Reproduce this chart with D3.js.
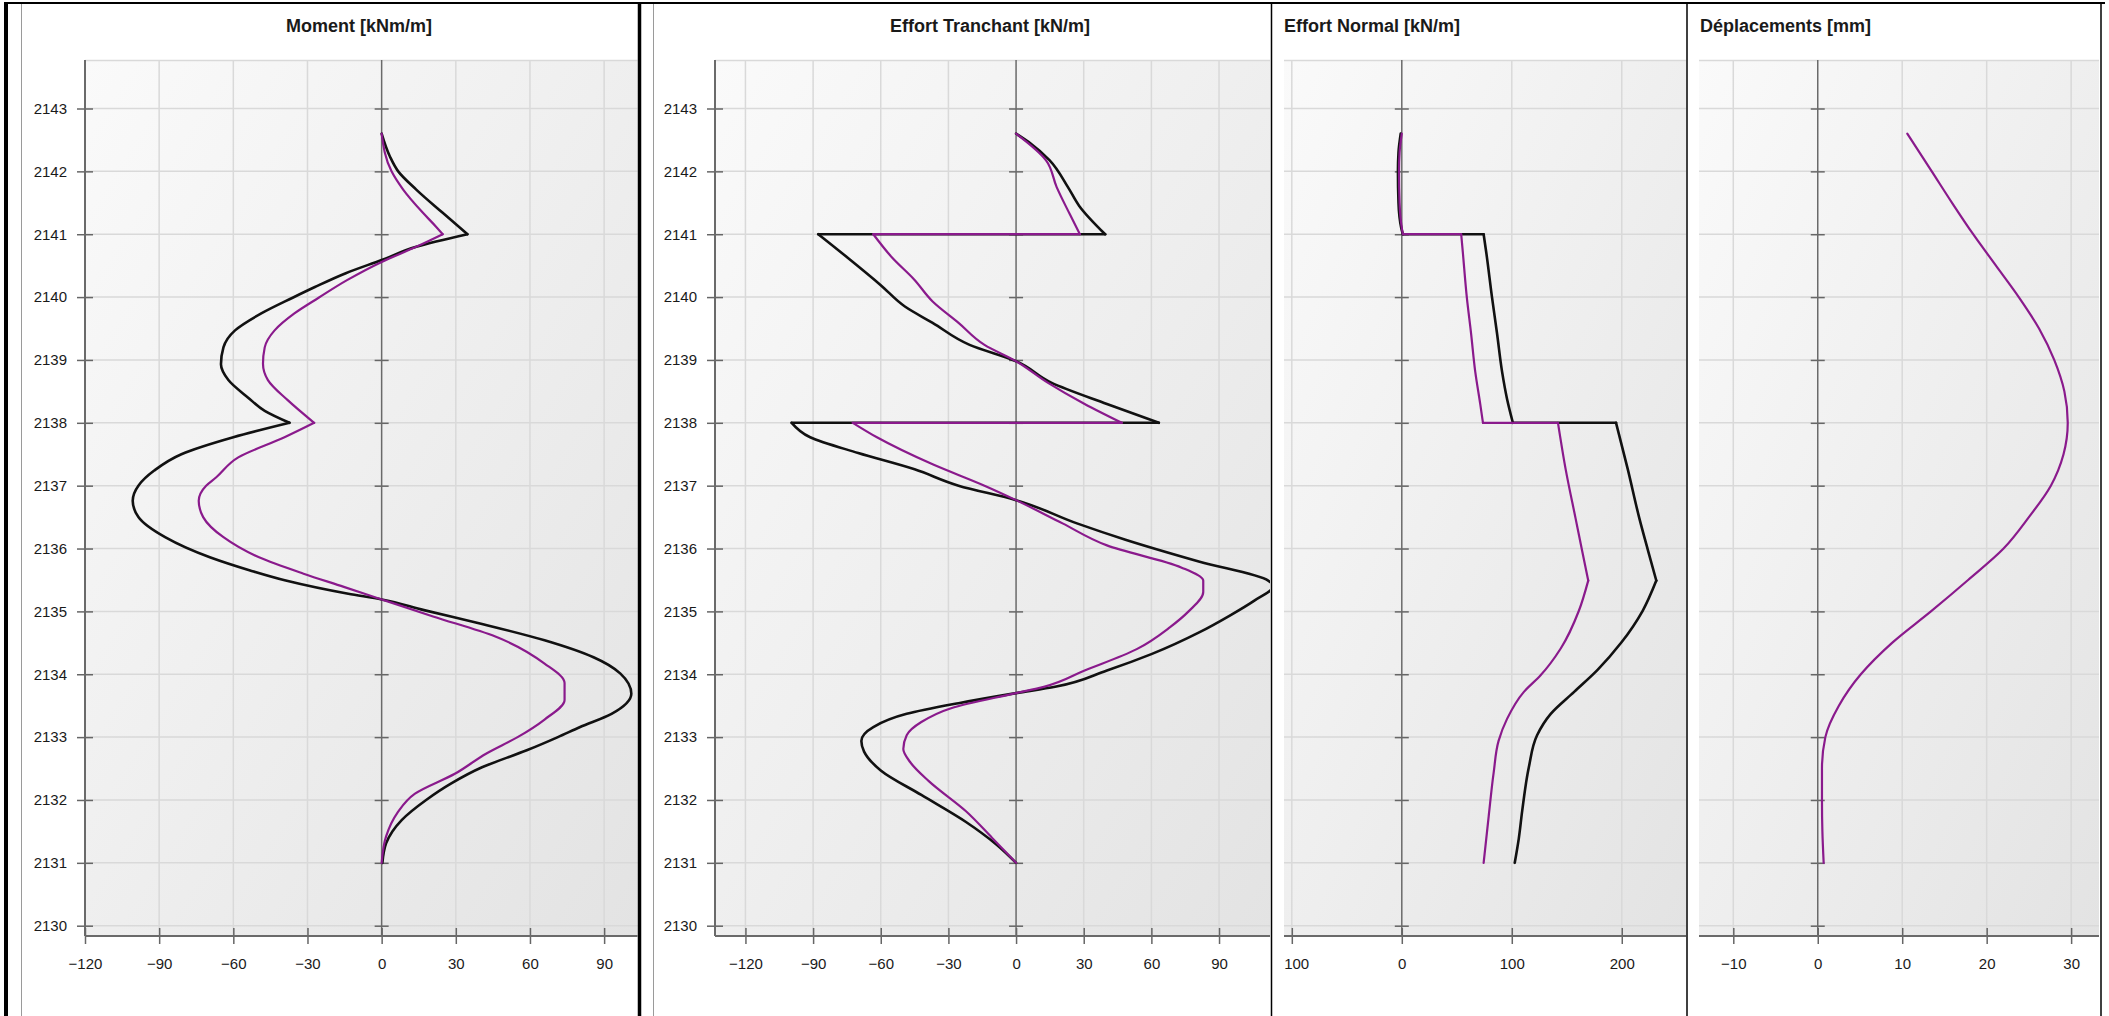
<!DOCTYPE html>
<html>
<head>
<meta charset="utf-8">
<script src="https://cdn.jsdelivr.net/npm/d3@7"></script>
<style>
  body { margin: 0; background: #fff; }
  text { font-family: "Liberation Sans", Arial, sans-serif; fill: #1a1a1a; }
</style>
</head>
<body>
<svg id="chart" width="2109" height="1016"></svg>
<script>
// ---- data (depth in m, value) ----
const depthTicks = [2130, 2131, 2132, 2133, 2134, 2135, 2136, 2137, 2138, 2139, 2140, 2141, 2142, 2143];

const momentTicks = [-120, -90, -60, -30, 0, 30, 60, 90];
const momentDepthBlack = [2142.6, 2142.24, 2142.0, 2141.71, 2141.34, 2141.0, 2140.8, 2140.59, 2140.38, 2140.16, 2139.99, 2139.74, 2139.47, 2139.2, 2138.93, 2138.68, 2138.4, 2138.19, 2138.0, 2137.77, 2137.5, 2137.24, 2137.0, 2136.76, 2136.5, 2136.18, 2135.86, 2135.65, 2135.49, 2135.28, 2135.19, 2135.02, 2134.8, 2134.54, 2134.27, 2134.01, 2133.69, 2133.37, 2133.16, 2133.0, 2132.79, 2132.52, 2132.26, 2132.0, 2131.68, 2131.31, 2131.0];
const momentBlack = [0, 3.3, 6.7, 14, 24.7, 34.7, 14, 0, -14.5, -27, -36, -48.7, -59.3, -64, -65, -62, -54, -47.3, -37.3, -60, -81, -92, -98.4, -100.7, -98.4, -87.6, -69.5, -53.2, -38.8, -13.5, 0, 17.1, 40.6, 65.9, 85.7, 96.6, 101, 93, 80.3, 71.3, 58.7, 40.6, 28, 18, 8.1, 1.8, 0.3];
const momentDepthPurple = [2142.6, 2142.0, 2141.71, 2141.34, 2141.12, 2141.0, 2140.8, 2140.56, 2140.27, 2139.99, 2139.74, 2139.47, 2139.2, 2138.94, 2138.68, 2138.36, 2138.0, 2137.77, 2137.45, 2137.13, 2137.0, 2136.76, 2136.5, 2136.18, 2135.86, 2135.6, 2135.39, 2135.19, 2134.92, 2134.6, 2134.17, 2133.86, 2133.59, 2133.28, 2133.0, 2132.74, 2132.42, 2132.1, 2131.79, 2131.42, 2131.0];
const momentPurple = [0, 4, 8.7, 16.7, 22, 24.7, 14, 0, -14, -25.5, -35.3, -43.3, -47.3, -48, -46, -38, -27.3, -39.3, -58, -67, -71, -74, -72.2, -64, -49.6, -31.6, -15.3, 0, 20.8, 46, 65.9, 74, 74, 65.9, 55, 42.4, 29.8, 13.5, 6.3, 1.8, 0];

const shearTicks = [-120, -90, -60, -30, 0, 30, 60, 90];
const shearDepthBlack = [2142.6, 2142.44, 2142.18, 2141.75, 2141.45, 2141.0, 2141.0, 2140.63, 2140.19, 2139.85, 2139.59, 2139.24, 2138.98, 2138.64, 2138.3, 2138.0, 2138.0, 2137.77, 2137.52, 2137.26, 2137.0, 2136.77, 2136.4, 2136.14, 2135.79, 2135.49, 2135.4, 2135.18, 2134.93, 2134.67, 2134.32, 2134.06, 2133.8, 2133.7, 2133.54, 2133.37, 2133.16, 2132.94, 2132.77, 2132.47, 2132.08, 2131.65, 2131.3, 2131.0];
const shearBlack = [0, 6.6, 14.8, 23, 28, 39.5, -87.7, -74.8, -60, -49.3, -37, -20.6, 0, 15.6, 40.3, 63.3, -99.5, -91.3, -70, -45, -25.5, 0, 27, 48.5, 81.4, 111.8, 114, 106, 94.6, 81.4, 60, 40.3, 17.3, 0, -25.5, -48.5, -63.3, -68.6, -67.4, -60, -42, -22.2, -9, 0];
const shearDepthPurple = [2142.6, 2142.18, 2141.75, 2141.32, 2141.0, 2141.0, 2140.63, 2140.28, 2139.93, 2139.59, 2139.24, 2138.98, 2138.64, 2138.3, 2138.0, 2138.0, 2137.77, 2137.34, 2137.0, 2136.77, 2136.4, 2136.05, 2135.7, 2135.49, 2135.31, 2135.0, 2134.75, 2134.4, 2134.06, 2133.8, 2133.7, 2133.46, 2133.24, 2133.03, 2132.81, 2132.6, 2132.3, 2131.82, 2131.4, 2131.0];
const shearPurple = [0, 13.2, 18, 23.8, 28.3, -63.3, -55, -45.2, -37, -25.5, -14, 0, 14, 30.4, 46.9, -72.4, -61.7, -37, -14, 0, 20.6, 40.3, 73.2, 83, 83, 76.5, 68.3, 53.5, 30.4, 12.3, 0, -28.8, -42, -48.5, -50, -46.9, -38.7, -22.2, -10.7, 0];

const normalTicks = [-100, 0, 100, 200];
const normalDepthBlack = [2142.6, 2142.3, 2142.0, 2141.5, 2141.1, 2141.0, 2141.0, 2140.71, 2140.0, 2139.42, 2138.81, 2138.38, 2138.0, 2138.0, 2137.26, 2136.48, 2135.96, 2135.49, 2135.01, 2134.5, 2134.07, 2133.72, 2133.37, 2133.03, 2132.52, 2131.83, 2131.39, 2131.0];
const normalBlack = [-1, -3, -3.5, -3, -0.5, 1, 74.4, 76.8, 82, 86.6, 91.2, 95.7, 101, 194.8, 205.5, 216, 224, 231.4, 219, 199.4, 178, 156.7, 135.4, 123, 115.5, 109.5, 106.4, 102.7];
const normalDepthPurple = [2142.6, 2142.3, 2142.0, 2141.5, 2141.1, 2141.0, 2141.0, 2140.71, 2140.0, 2139.42, 2138.81, 2138.3, 2138.0, 2138.0, 2137.26, 2136.48, 2135.96, 2135.49, 2135.01, 2134.41, 2133.98, 2133.72, 2133.29, 2132.94, 2132.43, 2131.74, 2131.0];
const normalPurple = [0, -2, -2.5, -2, 0, 1, 54, 55.5, 59.1, 63, 66.8, 71.3, 73.8, 142, 149, 158, 164, 169.5, 161, 144.5, 126, 111, 95.7, 88, 83.5, 79, 74.4];

const dispTicks = [-10, 0, 10, 20, 30];
const dispDepth = [2142.6, 2142.0, 2141.5, 2141.0, 2140.5, 2140.0, 2139.5, 2139.0, 2138.5, 2138.0, 2137.5, 2137.0, 2136.5, 2136.0, 2135.5, 2135.0, 2134.5, 2134.0, 2133.5, 2133.0, 2132.5, 2132.0, 2131.5, 2131.0];
const dispPurple = [10.6, 13.5, 15.9, 18.4, 21.1, 23.8, 26.2, 28.0, 29.2, 29.6, 29.1, 27.6, 25.0, 22.0, 17.8, 13.4, 8.8, 5.1, 2.5, 0.9, 0.5, 0.5, 0.55, 0.7];

// ---- layout ----
const H = 1016;
const plotTop = 60, plotBottom = 936;
const black = '#111111', purple = '#8a1a8c';

const svg = d3.select('#chart');
const y = d3.scaleLinear().domain([2130, 2143]).range([925.7, 108.5]);

const defs = svg.append('defs');
const grad = defs.append('linearGradient').attr('id', 'bg')
    .attr('x1', 0).attr('y1', 0).attr('x2', 1).attr('y2', 1);
grad.append('stop').attr('offset', '0%').attr('stop-color', '#fafafa');
grad.append('stop').attr('offset', '100%').attr('stop-color', '#e3e3e3');

const panels = [
    { title: 'Moment [kNm/m]', titleX: 359, anchor: 'middle', clipL: 22, clipR: 638, left: 85, right: 637.5,
      domain: [-120, 103.5], ticks: momentTicks, yLabels: true, breaks: [2141, 2138],
      series: [[momentDepthBlack, momentBlack, black], [momentDepthPurple, momentPurple, purple]] },
    { title: 'Effort Tranchant [kN/m]', titleX: 990, anchor: 'middle', clipL: 654, clipR: 1271, left: 715, right: 1270,
      domain: [-133.5, 112.6], ticks: shearTicks, yLabels: true, breaks: [2141, 2138],
      series: [[shearDepthBlack, shearBlack, black], [shearDepthPurple, shearPurple, purple]] },
    { title: 'Effort Normal [kN/m]', titleX: 1284, anchor: 'start', clipL: 1284, clipR: 1686, left: 1284, right: 1686,
      domain: [-107.1, 258.4], ticks: normalTicks, yLabels: false, breaks: [2141, 2138, 2135.49],
      series: [[normalDepthBlack, normalBlack, black], [normalDepthPurple, normalPurple, purple]] },
    { title: 'Déplacements [mm]', titleX: 1700, anchor: 'start', clipL: 1688, clipR: 2100, left: 1699, right: 2099,
      domain: [-14.06, 33.3], ticks: dispTicks, yLabels: false, breaks: [],
      series: [[dispDepth, dispPurple, purple]] }
];

// split a curve at the depths where it has a kink or a jump
function splitAt(pts, breaks) {
    const segs = [];
    let cur = [];
    pts.forEach(p => {
        cur.push(p);
        if (breaks.includes(p[1]) && cur.length > 1) { segs.push(cur); cur = [p]; }
    });
    if (cur.length > 1) segs.push(cur);
    return segs;
}

panels.forEach((p, i) => {
    defs.append('clipPath').attr('id', 'clip' + i)
        .append('rect').attr('x', p.clipL).attr('y', 0).attr('width', p.clipR - p.clipL).attr('height', H);
    defs.append('clipPath').attr('id', 'plotclip' + i)
        .append('rect').attr('x', p.left).attr('y', plotTop).attr('width', p.right - p.left).attr('height', plotBottom - plotTop);

    const g = svg.append('g').attr('clip-path', `url(#clip${i})`);
    const x = d3.scaleLinear().domain(p.domain).range([p.left, p.right]);

    g.append('text')
        .attr('x', p.titleX).attr('y', 32)
        .attr('text-anchor', p.anchor)
        .attr('font-size', 18).attr('font-weight', 'bold')
        .text(p.title);

    g.append('rect')
        .attr('x', p.left).attr('y', plotTop)
        .attr('width', p.right - p.left).attr('height', plotBottom - plotTop)
        .attr('fill', 'url(#bg)');

    // grid
    g.append('g').selectAll('line').data(p.ticks.filter(t => t !== 0 && x(t) > p.left + 2)).join('line')
        .attr('x1', d => x(d)).attr('x2', d => x(d))
        .attr('y1', plotTop).attr('y2', plotBottom)
        .attr('stroke', '#d9d9d9').attr('stroke-width', 1.5);
    g.append('g').selectAll('line').data(depthTicks).join('line')
        .attr('x1', p.left).attr('x2', p.right)
        .attr('y1', d => y(d)).attr('y2', d => y(d))
        .attr('stroke', '#d9d9d9').attr('stroke-width', 1.5);
    g.append('line')
        .attr('x1', p.left).attr('x2', p.right).attr('y1', plotTop + 0.5).attr('y2', plotTop + 0.5)
        .attr('stroke', '#d9d9d9').attr('stroke-width', 1.5);

    // left depth axis
    if (p.yLabels) {
        const ya = g.append('g').attr('transform', `translate(${p.left},0)`)
            .call(d3.axisLeft(y).tickValues(depthTicks).tickFormat(d3.format('d')).tickSize(8).tickPadding(10));
        ya.select('.domain').remove();
        ya.selectAll('.tick line').attr('x1', 8).attr('x2', -8).attr('stroke', '#666').attr('stroke-width', 1.5);
        ya.selectAll('.tick text').attr('font-size', 15).attr('font-family', '"Liberation Sans", Arial, sans-serif').attr('fill', '#1a1a1a');
        g.append('line').attr('x1', p.left).attr('x2', p.left).attr('y1', plotTop).attr('y2', plotBottom)
            .attr('stroke', '#6a6a6a').attr('stroke-width', 2);
    }

    // zero line with its small ticks
    const za = g.append('g').attr('transform', `translate(${x(0)},0)`)
        .call(d3.axisLeft(y).tickValues(depthTicks).tickFormat('').tickSize(7));
    za.select('.domain').remove();
    za.selectAll('.tick line').attr('x1', 7).attr('x2', -7).attr('stroke', '#666').attr('stroke-width', 1.5);
    g.append('line').attr('x1', x(0)).attr('x2', x(0)).attr('y1', plotTop).attr('y2', plotBottom)
        .attr('stroke', '#6a6a6a').attr('stroke-width', 1.5);

    // bottom axis
    const xa = g.append('g').attr('transform', `translate(0,${plotBottom})`)
        .call(d3.axisBottom(x).tickValues(p.ticks).tickSize(8).tickPadding(14));
    xa.select('.domain').remove();
    xa.selectAll('.tick line').attr('y1', -8).attr('y2', 8).attr('stroke', '#666').attr('stroke-width', 1.5);
    xa.selectAll('.tick text').attr('font-size', 15).attr('font-family', '"Liberation Sans", Arial, sans-serif').attr('fill', '#1a1a1a');
    g.append('line').attr('x1', p.left).attr('x2', p.right).attr('y1', plotBottom).attr('y2', plotBottom)
        .attr('stroke', '#6a6a6a').attr('stroke-width', 2);

    // curves
    const line = d3.line().x(d => x(d[0])).y(d => y(d[1])).curve(d3.curveMonotoneY);
    const curves = g.append('g').attr('clip-path', `url(#plotclip${i})`);
    p.series.forEach(([depths, vals, col]) => {
        const pts = depths.map((d, k) => [vals[k], d]);
        curves.append('g').selectAll('path').data(splitAt(pts, p.breaks)).join('path')
            .attr('fill', 'none')
            .attr('stroke', col)
            .attr('stroke-width', col === black ? 2.6 : 2.2)
            .attr('stroke-linejoin', 'round')
            .attr('stroke-linecap', 'round')
            .attr('d', line);
    });
});

// frames
const frame = svg.append('g');
frame.append('line').attr('x1', 4).attr('x2', 2105).attr('y1', 3).attr('y2', 3).attr('stroke', '#000').attr('stroke-width', 2);
frame.append('line').attr('x1', 6).attr('x2', 6).attr('y1', 2).attr('y2', H).attr('stroke', '#000').attr('stroke-width', 4);
frame.append('line').attr('x1', 21.5).attr('x2', 21.5).attr('y1', 4).attr('y2', H).attr('stroke', '#9a9a9a').attr('stroke-width', 1);
frame.append('line').attr('x1', 639.5).attr('x2', 639.5).attr('y1', 2).attr('y2', H).attr('stroke', '#000').attr('stroke-width', 3.5);
frame.append('line').attr('x1', 653.5).attr('x2', 653.5).attr('y1', 4).attr('y2', H).attr('stroke', '#9a9a9a').attr('stroke-width', 1);
frame.append('line').attr('x1', 1271.5).attr('x2', 1271.5).attr('y1', 2).attr('y2', H).attr('stroke', '#000').attr('stroke-width', 1.5);
frame.append('line').attr('x1', 1687).attr('x2', 1687).attr('y1', 2).attr('y2', H).attr('stroke', '#000').attr('stroke-width', 1.5);
frame.append('line').attr('x1', 2101).attr('x2', 2101).attr('y1', 2).attr('y2', H).attr('stroke', '#000').attr('stroke-width', 1.5);
</script>
</body>
</html>
